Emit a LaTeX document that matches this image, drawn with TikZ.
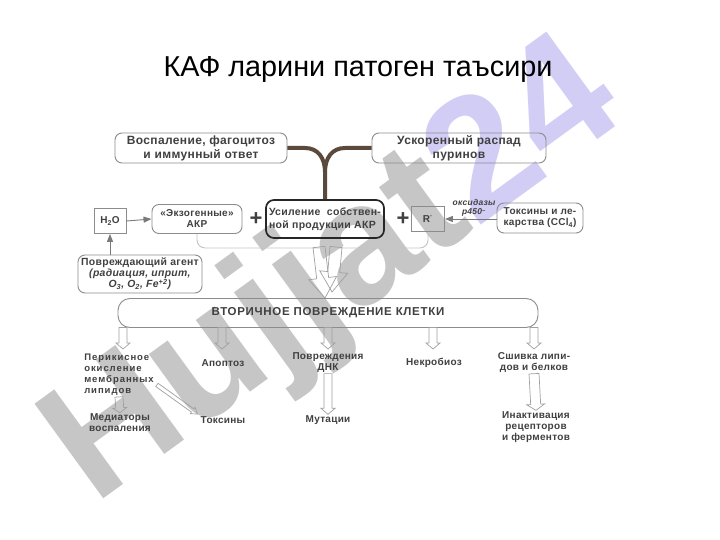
\documentclass[tikz,border=0pt]{standalone}
\usepackage{fontspec}
\setmainfont{Liberation Sans}
\newfontfamily\dg[LetterSpace=3]{Liberation Sans}
\newfontfamily\dgw[LetterSpace=10]{Liberation Sans}
\newfontfamily\dgv[LetterSpace=6]{Liberation Sans}
\usetikzlibrary{calc,arrows.meta}
\definecolor{txt}{HTML}{404040}
\definecolor{bord}{HTML}{8C8C8C}
\definecolor{brownc}{HTML}{5B4A3C}
\definecolor{wmgray}{HTML}{C6C6C6}
\definecolor{wmpurple}{HTML}{D2CDF4}
\definecolor{faintc}{HTML}{C4C4C4}
\definecolor{arrc}{HTML}{7A7A7A}
\definecolor{holc}{HTML}{A0A0A0}
\newcommand\blockarrow[5]{%
  \coordinate (bah) at ($(#2)!#5!(#1)$);
  \draw[hol] ($(#1)!#3!90:(#2)$) -- ($(bah)!#3!-90:(#1)$) -- ($(bah)!#4!-90:(#1)$) -- (#2)
    -- ($(bah)!#4!90:(#1)$) -- ($(bah)!#3!90:(#1)$) -- ($(#1)!#3!-90:(#2)$) -- cycle;}
\tikzset{
  box/.style={draw=bord, rounded corners=7pt, line width=0.9pt, align=center, text=txt,
    inner sep=2pt, font=\dg\bfseries\fontsize{10}{11}\selectfont},
  sqbox/.style={box, rounded corners=0pt},
  mainbox/.style={box, draw=black!85, line width=1.7pt, rounded corners=8pt},
  lab/.style={text=txt, align=center, inner sep=1pt, font=\dg\bfseries\fontsize{10}{11}\selectfont},
  conn/.style={draw=arrc, line width=0.9pt, -{Triangle[length=8pt,width=6pt]}},
  hol/.style={draw=holc, line width=0.7pt},
  faintline/.style={draw=faintc, line width=0.9pt, rounded corners=8pt},
  brownline/.style={draw=brownc, line width=4pt},
  plus/.style={text=txt, inner sep=0pt, font=\fontsize{22}{22}\selectfont\bfseries}
}
\begin{document}
\begin{tikzpicture}[x=1pt,y=-1pt]
\useasboundingbox (0,0) rectangle (720,540);
\fill[white] (0,0) rectangle (720,540);
% watermark
\node[inner sep=0pt] (wm) at (336,276) {\rotatebox{36}{\fontsize{170}{170}\selectfont\bfseries\color{wmgray}Hujjat\textcolor{wmpurple}{24}}};
% title
\node[inner sep=0pt, font=\fontsize{28.8}{30}\selectfont] (title) at (358,70) {КАФ ларини патоген таъсири};
% top boxes
\node[box, minimum width=172, minimum height=30, font=\dg\bfseries\fontsize{12}{14}\selectfont] (A) at (201,148) {Воспаление, фагоцитоз\\и иммунный ответ};
\node[box, minimum width=174, minimum height=30, font=\dg\bfseries\fontsize{12}{14}\selectfont] (B) at (459,148) {Ускоренный распад\\пуринов};
\node[mainbox, minimum width=118, minimum height=38, align=left, font=\dg\bfseries\fontsize{10.5}{13}\selectfont] (C) at (325,219) {Усиление\ \ собствен-\\ной продукции АКР};
\node[box, minimum width=90, minimum height=29] (E) at (197,219) {«Экзогенные»\\АКР};
\node[sqbox, minimum width=32, minimum height=25] (H) at (110,221) {H\textsubscript{2}O};
\node[box, minimum width=124, minimum height=38, font=\dg\bfseries\fontsize{10.4}{11}\selectfont] (P) at (140,274) {Повреждающий агент\\\textit{(радиация, иприт,}\\\textit{O\textsubscript{3}, O\textsubscript{2}, Fe\textsuperscript{+2})}};
\node[sqbox, minimum width=33, minimum height=25] (R) at (428,219) {R\textsuperscript{·}};
\node[box, minimum width=86, minimum height=30] (T) at (540,218) {Токсины и ле-\\карства (CCl\textsubscript{4})};
\node[plus] (p1) at (256,219) {+};
\node[plus] (p2) at (403,219) {+};
\node[lab, font=\dg\bfseries\itshape\fontsize{8.5}{9.5}\selectfont] (ox) at (474,208) {оксидазы\\р450\textsuperscript{–}};
% brown Y connector
\coordinate (yj) at (325,172);
\draw[brownline] (A.east) -- (305,148) .. controls (318,148) and (325,158) .. (yj) -- (C.north);
\draw[brownline] (B.west) -- (345,148) .. controls (332,148) and (325,158) .. (yj);
% arrows
\draw[conn] (H.east) -- (E.west);
\draw[conn] (H.south |- P.north) -- (H.south);
\draw[conn] (T.west |- R.east) -- (R.east);
% faint collector
\draw[faintline] (E.south) -- ++(0,14) -| (R.south);
% secondary damage box
\node[box, minimum width=420, minimum height=29, rounded corners=12pt, font=\dgv\bfseries\fontsize{11.5}{12}\selectfont] (V) at (328,313) {ВТОРИЧНОЕ ПОВРЕЖДЕНИЕ КЛЕТКИ};
% big hollow arrows
\coordinate (ha1s) at (319,247);
\coordinate (ha1e) at (325,298);
\coordinate (ha2s) at (336,247);
\coordinate (ha2e) at (332,292);
\blockarrow{ha1s}{ha1e}{6pt}{14pt}{20pt}
\blockarrow{ha2s}{ha2e}{6pt}{14pt}{20pt}
% lower labels
\node[lab, align=left, font=\dgw\bfseries\fontsize{9.5}{11}\selectfont] (l1) at (119,375) {Перикисное\\окисление\\мембранных\\липидов};
\node[lab] (l2) at (223,363) {Апоптоз};
\node[lab] (l3) at (328,362.5) {Повреждения\\ДНК};
\node[lab] (l4) at (434,363) {Некробиоз};
\node[lab] (l5) at (534,362.5) {Сшивка липи-\\дов и белков};
\node[lab] (m1) at (120,423) {Медиаторы\\воспаления};
\node[lab] (m2) at (223,420) {Токсины};
\node[lab] (m3) at (328,420) {Мутации};
\node[lab] (m5) at (536,427) {Инактивация\\рецепторов\\и ферментов};
% small hollow arrows from V
\foreach \n/\xx in {1/123,2/222,3/328,4/433,5/534}{
  \coordinate (vs\n) at (\xx,327.5);
  \coordinate (ve\n) at (\xx,349);
}
\blockarrow{vs1}{ve1}{4pt}{7pt}{6pt}
\blockarrow{vs2}{ve2}{4pt}{7pt}{6pt}
\blockarrow{vs3}{ve3}{4pt}{7pt}{6pt}
\blockarrow{vs4}{ve4}{4pt}{7pt}{6pt}
\blockarrow{vs5}{ve5}{4pt}{7pt}{6pt}
% second-level arrows
\blockarrow{l1.south}{m1.north}{4pt}{7pt}{5pt}
\blockarrow{l3.south}{m3.north}{4pt}{7pt}{6pt}
\blockarrow{l5.south}{m5.north}{5pt}{9pt}{6pt}
\coordinate (dg1) at ($(l1.south east)+(2,-12)$);
\coordinate (dg2) at ($(m2.west)+(-2,-6)$);
\blockarrow{dg1}{dg2}{2pt}{4pt}{6pt}
\end{tikzpicture}
\end{document}
